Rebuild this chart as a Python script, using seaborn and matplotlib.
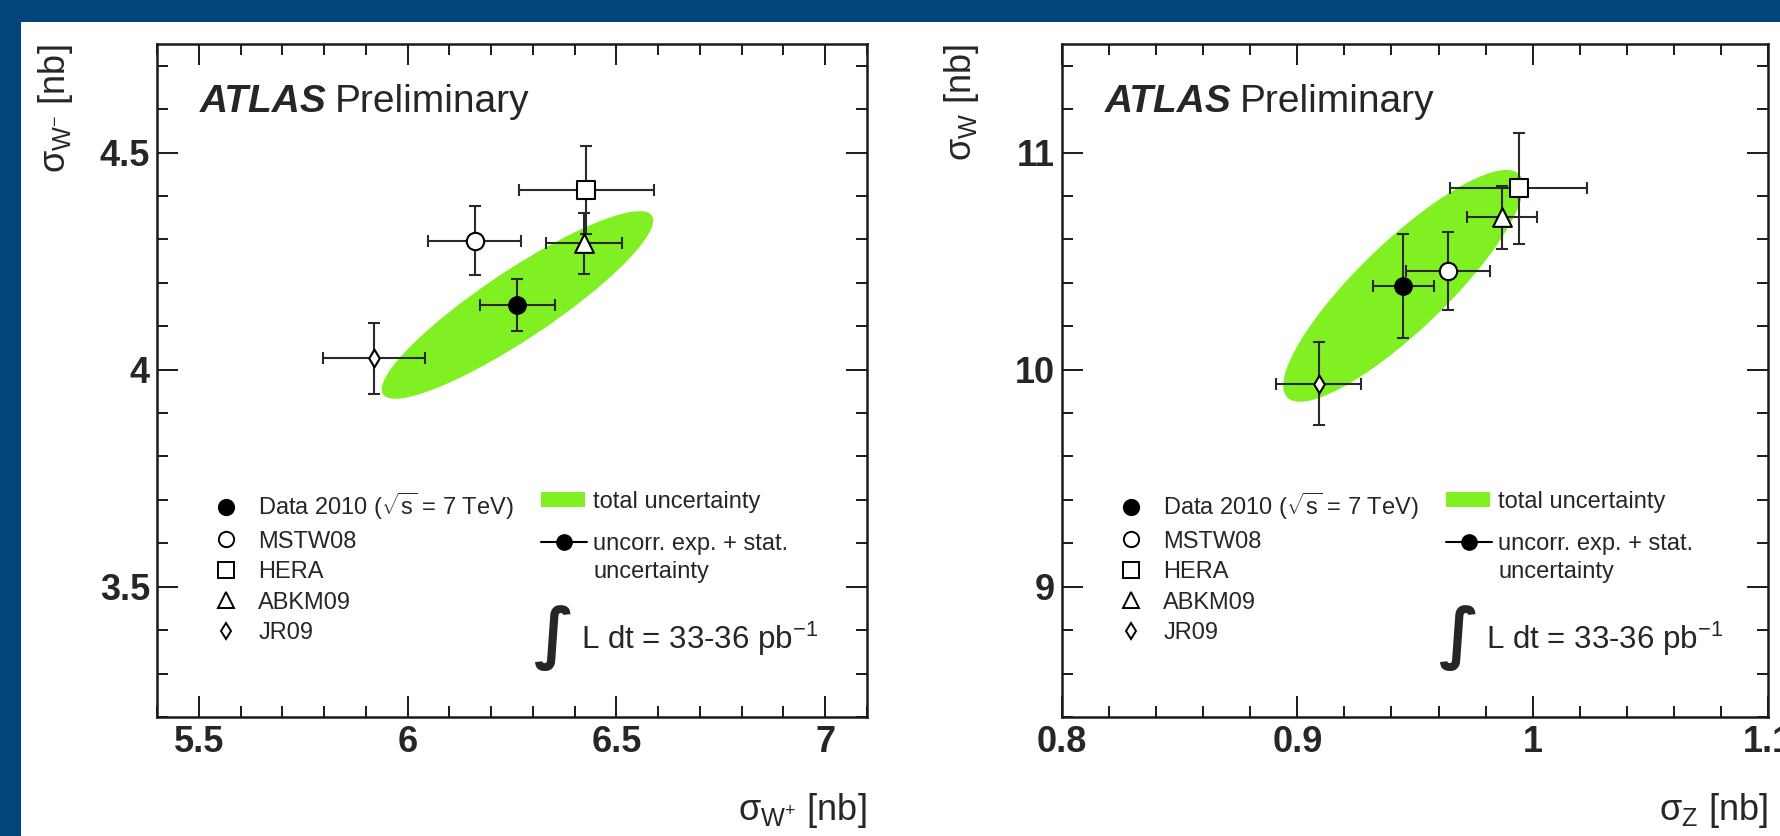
import numpy as np
import pandas as pd
import seaborn as sns
import matplotlib
matplotlib.use("Agg")
import matplotlib.pyplot as plt
from matplotlib.patches import Ellipse, Rectangle, Patch
from matplotlib.lines import Line2D
from matplotlib.ticker import MultipleLocator, FuncFormatter

# ---------------- data ----------------
pdf_sets = ["Data 2010", "MSTW08", "HERA", "ABKM09", "JR09"]
legend_labels = [r"Data 2010 ($\sqrt{\mathregular{s}}$ = 7 TeV)", "MSTW08", "HERA", "ABKM09", "JR09"]

# left panel: sigma_W+ (x) vs sigma_W- (y)  [nb]
wplus = [6.263, 6.161, 6.428, 6.422, 5.920]
wplus_err = [0.090, 0.111, 0.162, 0.091, 0.122]
wminus = [4.149, 4.297, 4.414, 4.291, 4.026]
wminus_err = [0.060, 0.080, 0.101, 0.070, 0.081]
left_total_sx, left_total_sy, left_total_rho = 0.325, 0.216, 0.90

# right panel: sigma_Z (x) vs sigma_W (y)  [nb]
sigz = [0.945, 0.964, 0.994, 0.987, 0.909]
sigz_err = [0.013, 0.018, 0.029, 0.015, 0.018]
sigw = [10.386, 10.455, 10.835, 10.701, 9.936]
sigw_err = [0.240, 0.180, 0.257, 0.146, 0.190]
right_total_sx, right_total_sy, right_total_rho = 0.051, 0.534, 0.86

lumi_text = r"L dt = 33-36 pb$^{\mathregular{-1}}$"

# ---------------- style ----------------
sns.set_style("ticks")
plt.rcParams["font.family"] = ["Liberation Sans", "DejaVu Sans"]
plt.rcParams["mathtext.fontset"] = "custom"
plt.rcParams["mathtext.rm"] = "Liberation Sans"
plt.rcParams["mathtext.it"] = "Liberation Sans:italic"
plt.rcParams["mathtext.bf"] = "Liberation Sans:bold"

GREEN = "#80F022"
BAR = "#2a2a2a"
BG = "#01457A"

markers = {"Data 2010": "o", "MSTW08": "o", "HERA": "s", "ABKM09": "^", "JR09": "d"}
faces = {"Data 2010": "black", "MSTW08": "white", "HERA": "white", "ABKM09": "white", "JR09": "white"}
msizes = {"Data 2010": 12, "MSTW08": 12.5, "HERA": 13.5, "ABKM09": 13.5, "JR09": 9}

W, H = 1781, 836
fig = plt.figure(figsize=(W / 100, H / 100), dpi=100, facecolor=BG)
fig.add_artist(Rectangle((21 / W, 0), 1 - 21 / W, (H - 22) / H, transform=fig.transFigure,
                         facecolor="white", edgecolor="none", zorder=-10))

ax1 = fig.add_axes([157 / W, 1 - 717 / H, 710 / W, 673 / H])
ax2 = fig.add_axes([1062 / W, 1 - 717 / H, 706 / W, 673 / H])


def ellipse_from(cx, cy, sx, sy, rho):
    cov = np.array([[sx * sx, rho * sx * sy], [rho * sx * sy, sy * sy]])
    vals, vecs = np.linalg.eigh(cov)
    order = vals.argsort()[::-1]
    vals, vecs = vals[order], vecs[:, order]
    angle = np.degrees(np.arctan2(vecs[1, 0], vecs[0, 0]))
    return Ellipse((cx, cy), 2 * np.sqrt(vals[0]), 2 * np.sqrt(vals[1]), angle=angle,
                   facecolor=GREEN, edgecolor="none", zorder=1)


def draw_panel(ax, xs, xerr, ys, yerr, ell, xlim, ylim, xmaj, xmin, ymaj, ymin, xlabel, ylabel):
    df = pd.DataFrame({"pdf": pdf_sets, "x": xs, "y": ys, "xerr": xerr, "yerr": yerr})
    ax.add_patch(ellipse_from(xs[0], ys[0], *ell))
    ax.errorbar(df["x"], df["y"], xerr=df["xerr"], yerr=df["yerr"], fmt="none",
                ecolor=BAR, elinewidth=1.5, capsize=4.5, capthick=1.5, zorder=3)
    for _, r in df.iterrows():
        sns.scatterplot(x=[r["x"]], y=[r["y"]], marker=markers[r["pdf"]], s=msizes[r["pdf"]] ** 2,
                        facecolor=faces[r["pdf"]], edgecolor="black", linewidth=1.5,
                        zorder=4, ax=ax, legend=False)
    ax.set_xlim(*xlim)
    ax.set_ylim(*ylim)
    ax.xaxis.set_major_locator(MultipleLocator(xmaj))
    ax.xaxis.set_minor_locator(MultipleLocator(xmin))
    ax.yaxis.set_major_locator(MultipleLocator(ymaj))
    ax.yaxis.set_minor_locator(MultipleLocator(ymin))
    fmt = FuncFormatter(lambda v, p: f"{v:g}")
    ax.xaxis.set_major_formatter(fmt)
    ax.yaxis.set_major_formatter(fmt)
    ax.tick_params(which="both", direction="in", top=True, right=True, color="#1a1a1a", width=1.4)
    ax.tick_params(which="major", length=15, labelsize=26)
    ax.tick_params(which="minor", length=8)
    ax.tick_params(axis="x", which="major", pad=6)
    ax.tick_params(axis="y", which="major", pad=5)
    for s in ax.spines.values():
        s.set_linewidth(1.8)
        s.set_color("#1a1a1a")
    plt.setp(ax.get_xticklabels(), fontweight="bold")
    plt.setp(ax.get_yticklabels(), fontweight="bold")
    ax.set_xlabel(xlabel, fontsize=26, loc="right")
    ax.set_ylabel(ylabel, fontsize=26, loc="top")
    ax.xaxis.set_label_coords(1.0, -0.11)
    ax.yaxis.set_label_coords(-0.115, 1.0)

    # ATLAS Preliminary
    t = ax.text(0.06, 0.899, "ATLAS", transform=ax.transAxes, fontsize=28,
                fontweight="bold", fontstyle="italic", va="baseline")
    ax.annotate("Preliminary", xy=(1, 0), xycoords=t, xytext=(6, 0),
                textcoords="offset points", fontsize=28, va="bottom")

    # legends
    hs = [Line2D([], [], ls="none", marker=markers[p], ms=(11 if p != "JR09" else 8.5),
                 mfc=faces[p], mec="black", mew=1.4) for p in pdf_sets]
    aw = ax.get_position().width * W
    leg1 = ax.legend(hs, legend_labels, loc="upper left", bbox_to_anchor=(60 / aw, 0.3364),
                     frameon=False, fontsize=17, handlelength=0.8, handletextpad=0.95,
                     labelspacing=0.36, borderpad=0, borderaxespad=0, numpoints=1)
    ax.add_artist(leg1)
    leg2 = ax.legend([Patch(facecolor=GREEN, edgecolor="none")], ["total uncertainty"],
                     loc="upper left", bbox_to_anchor=(384 / aw, 0.3364), frameon=False,
                     fontsize=17, handlelength=1.86, handleheight=0.64, handletextpad=0.36,
                     borderpad=0, borderaxespad=0)
    ax.add_artist(leg2)
    ax.legend([Line2D([], [], color="black", lw=1.5, marker="o", ms=11, mfc="black", mec="black"),
               Line2D([], [], ls="none")],
              ["uncorr. exp. + stat.", "uncertainty"], loc="upper left",
              bbox_to_anchor=(384 / aw, 0.273), frameon=False, fontsize=17,
              handlelength=1.95, handletextpad=0.27, labelspacing=0.23,
              borderpad=0, borderaxespad=0, numpoints=1)
    ax.text(396 / aw, 0.118, "\u222b", transform=ax.transAxes, fontsize=48,
            family="DejaVu Sans", fontweight="bold", ha="center", va="center")
    ax.text(424 / aw, 0.101, lumi_text, transform=ax.transAxes, fontsize=22.5, va="baseline")


draw_panel(ax1, wplus, wplus_err, wminus, wminus_err,
           (left_total_sx, left_total_sy, left_total_rho),
           (5.4, 7.1), (3.2, 4.75), 0.5, 0.1, 0.5, 0.1,
           r"σ$_{\mathregular{W^{+}}}$ [nb]", r"σ$_{\mathregular{W^{-}}}$ [nb]")
draw_panel(ax2, sigz, sigz_err, sigw, sigw_err,
           (right_total_sx, right_total_sy, right_total_rho),
           (0.8, 1.1), (8.4, 11.5), 0.1, 0.02, 1.0, 0.2,
           r"σ$_{\mathregular{Z}}$ [nb]", r"σ$_{\mathregular{W}}$ [nb]")

fig.savefig("out.png", dpi=100, facecolor=fig.get_facecolor())
